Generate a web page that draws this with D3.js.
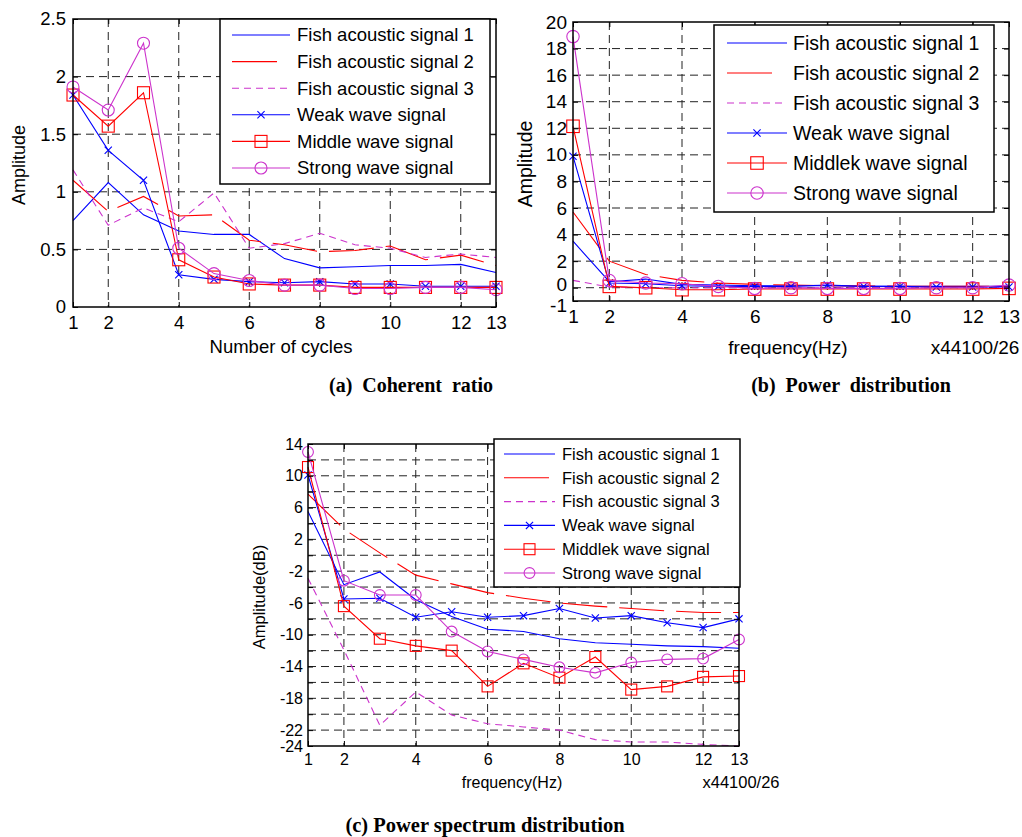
<!DOCTYPE html>
<html>
<head>
<meta charset="utf-8">
<script src="https://cdn.jsdelivr.net/npm/d3@7"></script>
<style>
body { margin: 0; background: #fff; }
text { font-family: Arial, "Liberation Sans", sans-serif; fill: #000; }
.caption { font-family: "Times New Roman", "Liberation Serif", serif; font-weight: bold; white-space: pre; }
</style>
</head>
<body>
<script>
// x values shared by all panels
var xValues = [1, 2, 3, 4, 5, 6, 7, 8, 9, 10, 11, 12, 13];
var xTickValues = [1, 2, 4, 6, 8, 10, 12, 13];
var xGridValues = [2, 4, 6, 8, 10, 12];

var namesA = ["Fish acoustic signal 1", "Fish acoustic signal 2", "Fish acoustic signal 3",
              "Weak wave signal", "Middle wave signal", "Strong wave signal"];
var namesBC = ["Fish acoustic signal 1", "Fish acoustic signal 2", "Fish acoustic signal 3",
               "Weak wave signal", "Middlek wave signal", "Strong wave signal"];

// (a) coherent ratio
var aFish1  = [0.75, 1.08, 0.80, 0.66, 0.63, 0.63, 0.42, 0.34, 0.35, 0.36, 0.36, 0.37, 0.30];
var aFish2  = [1.10, 0.83, 0.96, 0.79, 0.80, 0.58, 0.54, 0.48, 0.49, 0.53, 0.41, 0.45, 0.36];
var aFish3  = [1.19, 0.71, 0.86, 0.74, 0.99, 0.51, 0.55, 0.64, 0.54, 0.51, 0.43, 0.46, 0.43];
var aWeak   = [1.84, 1.36, 1.10, 0.28, 0.24, 0.22, 0.21, 0.22, 0.20, 0.20, 0.18, 0.18, 0.18];
var aMiddle = [1.84, 1.57, 1.86, 0.41, 0.26, 0.20, 0.19, 0.19, 0.17, 0.17, 0.17, 0.17, 0.17];
var aStrong = [1.91, 1.71, 2.29, 0.51, 0.29, 0.23, 0.19, 0.19, 0.16, 0.16, 0.17, 0.17, 0.15];
var aYTicks = [0, 0.5, 1, 1.5, 2, 2.5];
var aYGrid  = [0.5, 1, 1.5, 2];

// (b) power distribution
var bFish1  = [3.5, 0.45, 0.65, 0.25, 0.2, 0.15, 0.15, 0.15, 0.1, 0.1, 0.1, 0.1, 0.1];
var bFish2  = [5.7, 2.0, 1.0, 0.55, 0.35, 0.25, 0.2, 0.15, 0.15, 0.1, 0.1, 0.1, 0.1];
var bFish3  = [0.55, 0.05, 0, 0, 0, 0, 0, 0, 0, 0, 0, 0, 0];
var bWeak   = [9.9, 0.35, 0.3, 0.15, 0.1, 0.1, 0.1, 0.2, 0.1, 0.1, 0.05, 0.05, 0.05];
var bMiddle = [12.15, 0.1, 0, -0.15, -0.15, -0.1, -0.1, -0.1, -0.1, -0.1, -0.1, -0.1, -0.05];
var bStrong = [18.9, 0.55, 0.35, 0.3, 0.1, -0.05, 0, -0.05, -0.05, -0.05, 0, 0, 0.2];
var bYTicks = [-1, 0, 2, 4, 6, 8, 10, 12, 14, 16, 18, 20];
var bYGrid  = [0, 2, 4, 6, 8, 10, 12, 14, 16, 18];

// (c) power spectrum distribution
var cFish1  = [5.5, -3.7, -2.1, -5.6, -7.7, -9.3, -9.6, -10.5, -11.0, -11.2, -11.4, -11.5, -11.7];
var cFish2  = [7.7, 3.3, 0.3, -2.5, -3.6, -4.7, -5.4, -6.0, -6.4, -6.7, -7.0, -7.2, -7.2];
var cFish3  = [-2.9, -11.9, -21.4, -17.2, -20.1, -21.2, -21.6, -22.0, -23.2, -23.5, -23.5, -23.8, -24.0];
var cWeak   = [10.1, -5.5, -5.4, -7.8, -7.1, -7.8, -7.6, -6.7, -7.9, -7.6, -8.5, -9.1, -8.0];
var cMiddle = [11.1, -6.4, -10.5, -11.4, -12.0, -16.5, -13.6, -15.4, -12.8, -16.9, -16.5, -15.3, -15.2];
var cStrong = [13.0, -3.2, -5.0, -5.0, -9.6, -12.1, -13.1, -14.1, -14.8, -13.5, -13.1, -13.0, -10.6];
var cYTicks = [-24, -22, -20, -18, -16, -14, -12, -10, -8, -6, -4, -2, 0, 2, 4, 6, 8, 10, 12, 14];
var cYLabels = [14, 10, 6, 2, -2, -6, -10, -14, -18, -22, -24];
var cYGrid  = [-22, -20, -18, -16, -14, -12, -10, -8, -6, -4, -2, 0, 2, 4, 6, 8, 10, 12];

// line styles, same order as the legend
var magenta = "#cc33cc";
var styles = [
    {color: "#0000ff", dash: null, legendDash: null, marker: null},
    {color: "#ff0000", dash: "45,12", legendDash: "45,40", marker: null},
    {color: magenta, dash: "7,5", legendDash: "7,5", marker: null},
    {color: "#0000ff", dash: null, legendDash: null, marker: "x"},
    {color: "#ff0000", dash: null, legendDash: null, marker: "square"},
    {color: magenta, dash: null, legendDash: null, marker: "circle"}
];

var svg = d3.select("body").append("svg")
    .attr("width", 1022)
    .attr("height", 837);

var panels = [
    {left: 73, right: 496, top: 19, bottom: 307,
     yDomain: [0, 2.5], yTicks: aYTicks, yLabels: aYTicks, yGrid: aYGrid,
     series: [aFish1, aFish2, aFish3, aWeak, aMiddle, aStrong], names: namesA,
     tickFont: 18.5, padX: 9, padY: 7, sq: 12, r: 6,
     legend: {x0: 220, x1: 490, y0: 19, y1: 184, row0: 35, step: 26.6, s0: 232, s1: 290, tx: 297, font: 18.5},
     ylabel: {text: "Amplitude", x: 19, y: 165, font: 18},
     xlabels: [{text: "Number of cycles", x: 281, y: 347, font: 18.5}],
     caption: {text: "(a)  Coherent  ratio", x: 411, y: 392, font: 20}},
    {left: 573, right: 1009, top: 22, bottom: 301,
     yDomain: [-1, 20], yTicks: bYTicks, yLabels: bYTicks, yGrid: bYGrid,
     series: [bFish1, bFish2, bFish3, bWeak, bMiddle, bStrong], names: namesBC,
     tickFont: 19, padX: 9, padY: 6, sq: 12.5, r: 6.2,
     nudge: {"-1": 4, "0": -3},
     legend: {x0: 714, x1: 994, y0: 25, y1: 212, row0: 43, step: 30, s0: 727, s1: 787, tx: 793, font: 19.5},
     ylabel: {text: "Amplitude", x: 525, y: 164, font: 19.5},
     xlabels: [{text: "frequency(Hz)", x: 788, y: 347, font: 19},
               {text: "x44100/26", x: 975, y: 347, font: 19}],
     caption: {text: "(b)  Power  distribution", x: 851, y: 392, font: 20}},
    {left: 308, right: 739, top: 444, bottom: 746,
     yDomain: [-24, 14], yTicks: cYTicks, yLabels: cYLabels, yGrid: cYGrid,
     series: [cFish1, cFish2, cFish3, cWeak, cMiddle, cStrong], names: namesBC,
     tickFont: 16, padX: 8, padY: 5, sq: 11, r: 5.4,
     legend: {x0: 494, x1: 740, y0: 439, y1: 587, row0: 454, step: 23.8, s0: 504, s1: 555, tx: 562, font: 16.5},
     ylabel: {text: "Amplitude(dB)", x: 259, y: 597, font: 16.5},
     xlabels: [{text: "frequency(Hz)", x: 512, y: 782, font: 16},
               {text: "x44100/26", x: 741, y: 782, font: 16.5}],
     caption: {text: "(c) Power spectrum distribution", x: 485, y: 832, font: 20.5}}
];

function drawMarker(sel, type, color, p) {
    if (type === "x") {
        sel.append("path")
            .attr("d", "M-3.6,-3.6L3.6,3.6M-3.6,3.6L3.6,-3.6")
            .attr("stroke", color).attr("stroke-width", 1.1).attr("fill", "none");
    } else if (type === "square") {
        sel.append("rect")
            .attr("x", -p.sq / 2).attr("y", -p.sq / 2)
            .attr("width", p.sq).attr("height", p.sq)
            .attr("stroke", color).attr("stroke-width", 1.1).attr("fill", "none");
    } else if (type === "circle") {
        sel.append("circle")
            .attr("r", p.r)
            .attr("stroke", color).attr("stroke-width", 1.1).attr("fill", "none");
    }
}

panels.forEach(function(p) {
    var g = svg.append("g");
    var x = d3.scaleLinear().domain([1, 13]).range([p.left, p.right]);
    var y = d3.scaleLinear().domain(p.yDomain).range([p.bottom, p.top]);

    // dashed grid
    g.selectAll(".gx").data(xGridValues).enter().append("line")
        .attr("x1", function(d) { return x(d); }).attr("x2", function(d) { return x(d); })
        .attr("y1", p.top).attr("y2", p.bottom)
        .attr("stroke", "#222").attr("stroke-width", 1).attr("stroke-dasharray", "8,5");
    g.selectAll(".gy").data(p.yGrid).enter().append("line")
        .attr("x1", p.left).attr("x2", p.right)
        .attr("y1", function(d) { return y(d); }).attr("y2", function(d) { return y(d); })
        .attr("stroke", "#222").attr("stroke-width", 1).attr("stroke-dasharray", "8,5");

    // series
    var line = d3.line()
        .x(function(d, i) { return x(xValues[i]); })
        .y(function(d) { return y(d); });

    p.series.forEach(function(vals, k) {
        var st = styles[k];
        g.append("path")
            .datum(vals)
            .attr("d", line)
            .attr("fill", "none")
            .attr("stroke", st.color)
            .attr("stroke-width", 1.1)
            .attr("stroke-dasharray", st.dash);
        if (st.marker) {
            vals.forEach(function(v, i) {
                var m = g.append("g").attr("transform", "translate(" + x(xValues[i]) + "," + y(v) + ")");
                drawMarker(m, st.marker, st.color, p);
            });
        }
    });

    // axes: inward ticks on all four sides
    var fmt = function(d) { return p.yLabels.indexOf(d) >= 0 ? String(d) : ""; };
    var bottom = g.append("g").attr("transform", "translate(0," + p.bottom + ")")
        .call(d3.axisBottom(x).tickValues(xTickValues).tickSize(-5).tickPadding(p.padX)
              .tickFormat(function(d) { return String(d); }));
    var topAx = g.append("g").attr("transform", "translate(0," + p.top + ")")
        .call(d3.axisTop(x).tickValues(xTickValues).tickSize(-5).tickFormat(""));
    var leftAx = g.append("g").attr("transform", "translate(" + p.left + ",0)")
        .call(d3.axisLeft(y).tickValues(p.yTicks).tickSize(-5).tickPadding(p.padY).tickFormat(fmt));
    var rightAx = g.append("g").attr("transform", "translate(" + p.right + ",0)")
        .call(d3.axisRight(y).tickValues(p.yTicks).tickSize(-5).tickFormat(""));

    [bottom, topAx, leftAx, rightAx].forEach(function(a) {
        a.select(".domain").remove();
        a.selectAll(".tick line").attr("stroke", "#000").attr("stroke-width", 1);
        a.selectAll("text")
            .style("font-family", "Arial, 'Liberation Sans', sans-serif")
            .style("font-size", p.tickFont + "px")
            .attr("fill", "#000");
    });
    if (p.nudge) {
        leftAx.selectAll(".tick text").attr("y", function(d) { return p.nudge[String(d)] || 0; });
    }

    g.append("rect")
        .attr("x", p.left).attr("y", p.top)
        .attr("width", p.right - p.left).attr("height", p.bottom - p.top)
        .attr("fill", "none").attr("stroke", "#000").attr("stroke-width", 1.5);

    // legend
    var L = p.legend;
    g.append("rect")
        .attr("x", L.x0).attr("y", L.y0)
        .attr("width", L.x1 - L.x0).attr("height", L.y1 - L.y0)
        .attr("fill", "#fff").attr("stroke", "#000").attr("stroke-width", 1.5);
    p.names.forEach(function(name, k) {
        var st = styles[k];
        var ry = L.row0 + k * L.step;
        g.append("line")
            .attr("x1", L.s0).attr("x2", L.s1).attr("y1", ry).attr("y2", ry)
            .attr("stroke", st.color).attr("stroke-width", 1.1)
            .attr("stroke-dasharray", st.legendDash);
        if (st.marker) {
            var m = g.append("g").attr("transform", "translate(" + ((L.s0 + L.s1) / 2) + "," + ry + ")");
            drawMarker(m, st.marker, st.color, p);
        }
        g.append("text")
            .attr("x", L.tx).attr("y", ry + L.font * 0.35)
            .style("font-size", L.font + "px")
            .text(name);
    });

    // axis titles
    g.append("text")
        .attr("transform", "translate(" + (p.ylabel.x + p.ylabel.font * 0.35) + "," + p.ylabel.y + ") rotate(-90)")
        .attr("text-anchor", "middle")
        .style("font-size", p.ylabel.font + "px")
        .text(p.ylabel.text);
    p.xlabels.forEach(function(t) {
        g.append("text")
            .attr("x", t.x).attr("y", t.y + t.font * 0.35)
            .attr("text-anchor", "middle")
            .style("font-size", t.font + "px")
            .text(t.text);
    });

    g.append("text")
        .attr("class", "caption")
        .attr("x", p.caption.x).attr("y", p.caption.y)
        .attr("text-anchor", "middle")
        .style("font-size", p.caption.font + "px")
        .text(p.caption.text);
});
</script>
</body>
</html>
